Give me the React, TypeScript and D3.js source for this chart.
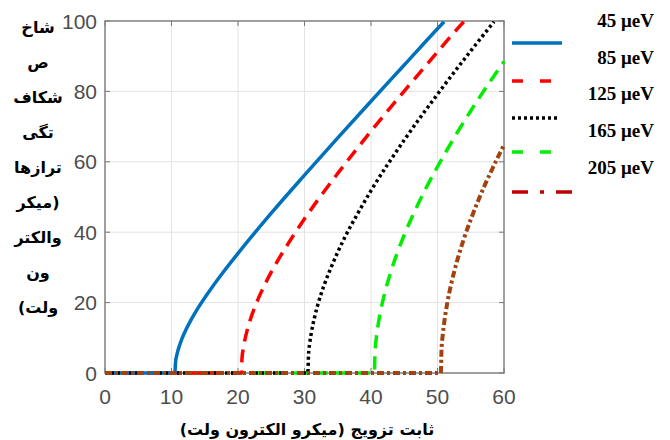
import { useEffect, useRef } from 'react';
import * as d3 from 'd3';

// values
const legendLabels = ['45 μeV', '85 μeV', '125 μeV', '165 μeV', '205 μeV'];

const blueX = [0, 10.5, 10.6, 10.8, 11, 11.5, 12, 13, 14, 16, 18, 20, 25, 30, 35, 40, 45, 50, 51];
const blueY = [0, 0, 2.9, 5.1, 6.6, 9.4, 11.6, 15.3, 18.5, 24.1, 29.2, 34, 45.4, 56.2, 66.8, 77.2, 87.5, 97.8, 99.8];

const redX = [0, 20.5, 20.6, 20.8, 21, 21.5, 22, 23, 24, 26, 28, 30, 35, 40, 45, 50, 54, 54.2];
const redY = [0, 0, 4.1, 7, 9.1, 13, 16, 20.9, 25, 32, 38.1, 43.8, 56.7, 68.7, 80.1, 91.2, 99.9, 100.3];

const blackX = [0, 30.5, 30.6, 30.8, 31, 31.5, 32, 33, 34, 36, 38, 40, 45, 50, 55, 58.5];
const blackY = [0, 0, 4.9, 8.6, 11.1, 15.7, 19.4, 25.2, 30, 38.3, 45.3, 51.8, 66.2, 79.2, 91.5, 99.8];

const greenX = [0, 40.5, 40.6, 40.8, 41, 41.5, 42, 43, 44, 46, 48, 50, 53, 56, 60];
const greenY = [0, 0, 5.7, 9.9, 12.8, 18.1, 22.2, 28.9, 34.4, 43.6, 51.5, 58.6, 68.4, 77.4, 88.5];

const brownX = [0, 50.5, 50.6, 50.8, 51, 51.5, 52, 53, 54, 55, 56, 57, 58, 59, 60];
const brownY = [0, 0, 6.4, 11, 14.2, 20.2, 24.8, 32.2, 38.3, 43.6, 48.4, 52.9, 57, 61, 64.8];

const xTicks = [0, 10, 20, 30, 40, 50, 60];
const yTicks = [0, 20, 40, 60, 80, 100];

const yLabelLines = ['شاخ', 'ص', 'شکاف', 'تگی', 'ترازها', '(میکر', 'والکتر', 'ون', 'ولت)'];
const xLabel = 'ثابت تزویج (میکرو الکترون ولت)';

const seriesStyle = [
  { color: '#0072bd', dash: null, width: 3.5, legendColor: '#0072bd', legendDash: null, legendEnd: 562 },
  { color: '#ff0000', dash: '13 8', width: 3.5, legendColor: '#ff0000', legendDash: '11 17', legendEnd: 557 },
  { color: '#000000', dash: '3 3', width: 3.5, legendColor: '#000000', legendDash: '3 3', legendEnd: 557 },
  { color: '#00ee00', dash: '13 8', width: 3.5, legendColor: '#00ee00', legendDash: '11 17', legendEnd: 557 },
  { color: '#a3420f', dash: '7 3 3 3', width: 4, legendColor: '#c00000', legendDash: '16 12 4 12', legendEnd: 572 },
];

// red and green go underneath so the baseline looks like the reference
const drawOrder = [3, 1, 0, 2, 4];

export default function App() {
  const svgRef = useRef<SVGSVGElement>(null);

  useEffect(() => {
    if (!svgRef.current) return;
    const svg = d3.select(svgRef.current);
    svg.selectAll('*').remove();

    const left = 105;
    const right = 504;
    const top = 21;
    const bottom = 373;

    const x = d3.scaleLinear().domain([0, 60]).range([left, right]);
    const y = d3.scaleLinear().domain([0, 100]).range([bottom, top]);

    svg.append('rect').attr('width', 670).attr('height', 440).attr('fill', '#fff');

    // grid
    svg
      .append('g')
      .selectAll('line')
      .data(xTicks.slice(1, -1))
      .enter()
      .append('line')
      .attr('x1', (d) => x(d))
      .attr('x2', (d) => x(d))
      .attr('y1', top)
      .attr('y2', bottom)
      .attr('stroke', '#e3e3e3')
      .attr('stroke-width', 1);
    svg
      .append('g')
      .selectAll('line')
      .data(yTicks.slice(1, -1))
      .enter()
      .append('line')
      .attr('x1', left)
      .attr('x2', right)
      .attr('y1', (d) => y(d))
      .attr('y2', (d) => y(d))
      .attr('stroke', '#e3e3e3')
      .attr('stroke-width', 1);

    // inward ticks on all sides
    const tickLen = 5;
    const tg = svg.append('g').attr('stroke', '#777').attr('stroke-width', 1);
    xTicks.forEach((t) => {
      tg.append('line').attr('x1', x(t)).attr('x2', x(t)).attr('y1', bottom).attr('y2', bottom - tickLen);
      tg.append('line').attr('x1', x(t)).attr('x2', x(t)).attr('y1', top).attr('y2', top + tickLen);
    });
    yTicks.forEach((t) => {
      tg.append('line').attr('x1', left).attr('x2', left + tickLen).attr('y1', y(t)).attr('y2', y(t));
      tg.append('line').attr('x1', right).attr('x2', right - tickLen).attr('y1', y(t)).attr('y2', y(t));
    });

    // frame
    svg
      .append('rect')
      .attr('x', left)
      .attr('y', top)
      .attr('width', right - left)
      .attr('height', bottom - top)
      .attr('fill', 'none')
      .attr('stroke', '#808080')
      .attr('stroke-width', 1.5);

    // tick labels
    svg
      .append('g')
      .selectAll('text')
      .data(xTicks)
      .enter()
      .append('text')
      .attr('x', (d) => x(d))
      .attr('y', 404)
      .attr('text-anchor', 'middle')
      .attr('font-family', '"Liberation Sans", Arial, sans-serif')
      .attr('font-size', 21)
      .attr('fill', '#4d4d4d')
      .text((d) => d);
    svg
      .append('g')
      .selectAll('text')
      .data(yTicks)
      .enter()
      .append('text')
      .attr('x', 97)
      .attr('y', (d) => y(d) + 7.5)
      .attr('text-anchor', 'end')
      .attr('font-family', '"Liberation Sans", Arial, sans-serif')
      .attr('font-size', 21)
      .attr('fill', '#4d4d4d')
      .text((d) => d);

    // curves
    svg
      .append('clipPath')
      .attr('id', 'plotClip')
      .append('rect')
      .attr('x', left - 3)
      .attr('y', top)
      .attr('width', right - left + 6)
      .attr('height', bottom - top + 5);

    const allX = [blueX, redX, blackX, greenX, brownX];
    const allY = [blueY, redY, blackY, greenY, brownY];
    const line = d3
      .line<[number, number]>()
      .x((d) => x(d[0]))
      .y((d) => y(d[1]))
      .curve(d3.curveMonotoneX);

    const cg = svg.append('g').attr('clip-path', 'url(#plotClip)');
    drawOrder.forEach((i) => {
      const pts = allX[i].map((v, j) => [v, allY[i][j]] as [number, number]);
      const st = seriesStyle[i];
      cg.append('path')
        .attr('d', line(pts))
        .attr('fill', 'none')
        .attr('stroke', st.color)
        .attr('stroke-width', st.width)
        .attr('stroke-dasharray', st.dash)
        .attr('stroke-linecap', 'butt');
    });

    // legend
    const legendLineY = [43, 81, 118, 152, 192];
    const legendTextY = [20, 57, 93, 130, 167];
    seriesStyle.forEach((st, i) => {
      svg
        .append('line')
        .attr('x1', 512)
        .attr('x2', st.legendEnd)
        .attr('y1', legendLineY[i])
        .attr('y2', legendLineY[i])
        .attr('stroke', st.legendColor)
        .attr('stroke-width', 3.5)
        .attr('stroke-dasharray', st.legendDash);
      svg
        .append('text')
        .attr('x', 654)
        .attr('y', legendTextY[i] + 7)
        .attr('text-anchor', 'end')
        .attr('font-family', '"Liberation Serif", "Times New Roman", serif')
        .attr('font-weight', 'bold')
        .attr('font-size', 19)
        .attr('fill', '#000')
        .text(legendLabels[i]);
    });

    // axis titles
    const yl = svg
      .append('g')
      .attr('font-family', '"DejaVu Sans", sans-serif')
      .attr('font-weight', 'bold')
      .attr('font-size', 16)
      .attr('fill', '#000');
    yLabelLines.forEach((s, i) => {
      yl.append('text')
        .attr('x', 38)
        .attr('y', 33 + i * 35)
        .attr('text-anchor', 'middle')
        .attr('direction', 'rtl')
        .text(s);
    });
    svg
      .append('text')
      .attr('x', 307)
      .attr('y', 435)
      .attr('text-anchor', 'middle')
      .attr('direction', 'rtl')
      .attr('font-family', '"DejaVu Sans", sans-serif')
      .attr('font-weight', 'bold')
      .attr('font-size', 16)
      .attr('fill', '#000')
      .text(xLabel);

    return () => {
      svg.selectAll('*').remove();
    };
  }, []);

  return (
    <svg
      ref={svgRef}
      width={670}
      height={440}
      viewBox="0 0 670 440"
      style={{ position: 'absolute', left: 0, top: 0 }}
    />
  );
}
